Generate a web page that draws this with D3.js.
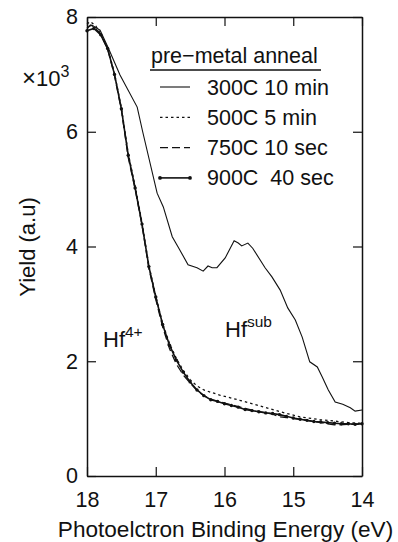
<!DOCTYPE html>
<html>
<head>
<meta charset="utf-8">
<script src="https://cdn.jsdelivr.net/npm/d3@7"></script>
<style>
  body { margin: 0; background: #fff; }
  svg { display: block; font-family: "Liberation Sans", Arial, Helvetica, sans-serif; }
</style>
</head>
<body>
<svg id="chart" width="398" height="542"></svg>
<script>
// yield values in units of 10^3, energy in eV
const xTicks = [18, 17, 16, 15, 14];
const yTicks = [0, 2, 4, 6, 8];
const legendLabels = ["300C 10 min", "500C 5 min", "750C 10 sec", "900C  40 sec"];

const series300 = [
  [18.0, 7.81], [17.93, 7.86], [17.81, 7.77], [17.69, 7.46], [17.52, 6.99], [17.27, 6.43],
  [17.19, 6.0], [16.98, 4.93], [16.89, 4.69], [16.76, 4.17], [16.65, 3.94], [16.53, 3.68],
  [16.40, 3.63], [16.31, 3.57], [16.24, 3.66], [16.18, 3.63], [16.11, 3.63], [15.99, 3.80],
  [15.86, 4.10], [15.80, 4.06], [15.75, 4.01], [15.66, 4.06], [15.59, 3.97], [15.41, 3.63],
  [15.31, 3.47], [15.19, 3.24], [15.08, 2.93], [14.97, 2.72], [14.87, 2.42], [14.76, 1.99],
  [14.65, 1.90], [14.58, 1.73], [14.49, 1.50], [14.39, 1.29], [14.28, 1.25], [14.17, 1.19],
  [14.10, 1.13], [14.0, 1.15]
];

const series500 = [
  [18.0, 7.88], [17.95, 7.92], [17.87, 7.84], [17.8, 7.70], [17.7, 7.46], [17.6, 7.02],
  [17.5, 6.42], [17.4, 5.62], [17.3, 5.05], [17.2, 4.42], [17.1, 3.67], [17.0, 3.14],
  [16.9, 2.66], [16.8, 2.31], [16.7, 2.05], [16.6, 1.84], [16.5, 1.68], [16.4, 1.57],
  [16.3, 1.50], [16.2, 1.46], [16.07, 1.41], [15.78, 1.32], [15.48, 1.22], [15.19, 1.12],
  [14.9, 1.03], [14.6, 0.98], [14.42, 0.96], [14.2, 0.93], [14.0, 0.92]
];

const series750 = [
  [18.0, 7.80], [17.95, 7.86], [17.9, 7.83], [17.8, 7.70], [17.7, 7.44], [17.6, 6.98],
  [17.5, 6.38], [17.4, 5.55], [17.3, 5.00], [17.2, 4.37], [17.1, 3.62], [17.0, 3.08],
  [16.9, 2.60], [16.8, 2.22], [16.7, 1.95], [16.6, 1.76], [16.5, 1.62], [16.4, 1.49],
  [16.3, 1.40], [16.2, 1.34], [16.0, 1.27], [15.8, 1.21], [15.6, 1.15], [15.4, 1.10],
  [15.3, 1.08], [15.2, 1.03], [15.1, 1.02], [15.0, 1.00], [14.8, 0.97], [14.6, 0.93],
  [14.4, 0.89], [14.2, 0.90], [14.0, 0.91]
];

const series900 = [
  [18.0, 7.76], [17.9, 7.80], [17.8, 7.69], [17.7, 7.45], [17.6, 7.00], [17.5, 6.40],
  [17.4, 5.59], [17.3, 5.02], [17.2, 4.39], [17.1, 3.65], [17.0, 3.12], [16.9, 2.64],
  [16.8, 2.28], [16.7, 2.02], [16.6, 1.81], [16.5, 1.64], [16.4, 1.50], [16.3, 1.40],
  [16.2, 1.33], [16.1, 1.30], [16.0, 1.26], [15.9, 1.23], [15.8, 1.20], [15.7, 1.16],
  [15.6, 1.14], [15.5, 1.12], [15.4, 1.10], [15.3, 1.09], [15.2, 1.07], [15.1, 1.04],
  [15.0, 1.01], [14.9, 0.99], [14.8, 0.97], [14.7, 0.95], [14.6, 0.94], [14.5, 0.93],
  [14.4, 0.92], [14.3, 0.91], [14.2, 0.91], [14.1, 0.90], [14.0, 0.91]
];

const margin = { top: 17, right: 36, bottom: 66, left: 87 };
const width = 398, height = 542;
const graphWidth = width - margin.left - margin.right;
const graphHeight = height - margin.top - margin.bottom;

const svg = d3.select("#chart");
const graph = svg.append("g")
  .attr("transform", `translate(${margin.left}, ${margin.top})`);

const x = d3.scaleLinear().domain([18, 14]).range([0, graphWidth]);
const y = d3.scaleLinear().domain([0, 8]).range([graphHeight, 0]);

// axes, ticks pointing inward on all four sides
const axisStyle = g => {
  g.select(".domain").attr("stroke", "#111").attr("stroke-width", 1.5);
  g.selectAll(".tick line").attr("stroke", "#111").attr("stroke-width", 1.2);
  g.selectAll(".tick text").attr("font-size", 21.5).attr("fill", "#111")
    .attr("font-family", "Liberation Sans, Arial, sans-serif");
};

graph.append("g")
  .attr("transform", `translate(0, ${graphHeight})`)
  .call(d3.axisBottom(x).tickValues(xTicks).tickSizeInner(-9).tickSizeOuter(0).tickPadding(16).tickFormat(d3.format("d")))
  .call(axisStyle);

graph.append("g")
  .call(d3.axisLeft(y).tickValues(yTicks).tickSizeInner(-9).tickSizeOuter(0).tickPadding(9).tickFormat(d3.format("d")))
  .call(axisStyle);

graph.append("g")
  .call(d3.axisTop(x).tickValues(xTicks).tickSizeInner(-9).tickSizeOuter(0).tickFormat(""))
  .call(axisStyle);

graph.append("g")
  .attr("transform", `translate(${graphWidth}, 0)`)
  .call(d3.axisRight(y).tickValues(yTicks).tickSizeInner(-9).tickSizeOuter(0).tickFormat(""))
  .call(axisStyle);

// curves
const line = d3.line().x(d => x(d[0])).y(d => y(d[1]));

const curves = [
  { data: series300, width: 1.1, dash: null },
  { data: series500, width: 1.3, dash: "2.5,3" },
  { data: series750, width: 1.3, dash: "8,4" },
  { data: series900, width: 1.6, dash: null }
];

graph.selectAll("path.curve")
  .data(curves)
  .enter()
  .append("path")
  .attr("class", "curve")
  .attr("d", d => line(d.data))
  .attr("fill", "none")
  .attr("stroke", "#111")
  .attr("stroke-width", d => d.width)
  .attr("stroke-dasharray", d => d.dash);

graph.selectAll("circle.pt")
  .data(series900)
  .enter()
  .append("circle")
  .attr("class", "pt")
  .attr("cx", d => x(d[0]))
  .attr("cy", d => y(d[1]))
  .attr("r", 1.7)
  .attr("fill", "#111");

// legend
const legend = svg.append("g");
legend.append("text")
  .attr("x", 151).attr("y", 63)
  .attr("font-size", 21.5).attr("fill", "#111")
  .text("pre\u2212metal anneal");
legend.append("line")
  .attr("x1", 150).attr("x2", 321).attr("y1", 70).attr("y2", 70)
  .attr("stroke", "#111").attr("stroke-width", 1.3);

const rows = legend.selectAll("g.row")
  .data(curves)
  .enter()
  .append("g")
  .attr("class", "row")
  .attr("transform", (d, i) => `translate(0, ${87 + i * 30.3})`);

rows.append("line")
  .attr("x1", 160).attr("x2", 190)
  .attr("stroke", "#111")
  .attr("stroke-width", d => d.width)
  .attr("stroke-dasharray", d => d.dash);

rows.filter((d, i) => i === 3).selectAll("circle")
  .data([160, 190])
  .enter()
  .append("circle")
  .attr("cx", d => d).attr("cy", 0).attr("r", 1.9).attr("fill", "#111");

rows.append("text")
  .attr("x", 207).attr("y", 7.5)
  .attr("font-size", 21.5).attr("fill", "#111")
  .attr("xml:space", "preserve")
  .style("white-space", "pre")
  .text((d, i) => legendLabels[i]);

// axis labels
svg.append("text")
  .attr("x", margin.left + graphWidth / 2 + 1).attr("y", 537)
  .attr("text-anchor", "middle")
  .attr("font-size", 22.6).attr("fill", "#111")
  .text("Photoelctron Binding Energy (eV)");

svg.append("text")
  .attr("transform", `translate(35, 247) rotate(-90)`)
  .attr("text-anchor", "middle")
  .attr("font-size", 22).attr("fill", "#111")
  .text("Yield (a.u)");

const mult = svg.append("text")
  .attr("x", 22).attr("y", 86)
  .attr("font-size", 22).attr("fill", "#111");
mult.append("tspan").attr("font-size", 24).text("\u00d7");
mult.append("tspan").text("10");
mult.append("tspan").attr("dy", -9).attr("font-size", 16).text("3");

// peak annotations
const hf4 = svg.append("text")
  .attr("x", 103).attr("y", 347)
  .attr("font-size", 22).attr("fill", "#111");
hf4.append("tspan").text("Hf");
hf4.append("tspan").attr("dy", -10).attr("font-size", 15.5).text("4+");

const hfs = svg.append("text")
  .attr("x", 225).attr("y", 337)
  .attr("font-size", 22).attr("fill", "#111");
hfs.append("tspan").text("Hf");
hfs.append("tspan").attr("dy", -10).attr("font-size", 15.5).text("sub");
</script>
</body>
</html>
